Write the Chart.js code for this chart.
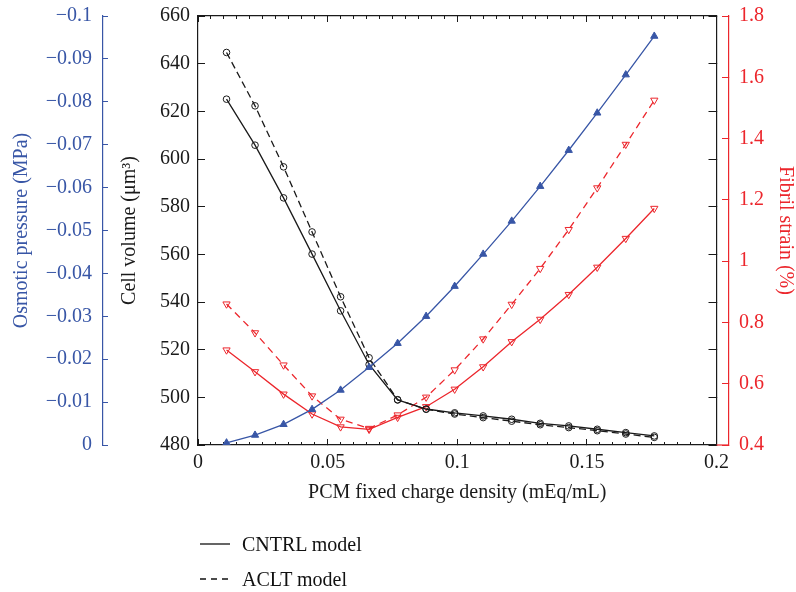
<!DOCTYPE html>
<html>
<head>
<meta charset="utf-8">
<script src="https://cdn.jsdelivr.net/npm/chart.js@4.4.1/dist/chart.umd.min.js"></script>
<style>
    html, body { margin: 0; padding: 0; background: #fff; }
    #wrap { position: relative; width: 796px; height: 592px; }
    #chart { position: absolute; left: 0; top: 0; }
    .legend-row { position: absolute; left: 200px; height: 24px; font: 20px "Liberation Serif", serif; color: #111; }
    .legend-row svg { position: absolute; left: 0; top: 6px; }
    .legend-row span { position: absolute; left: 42px; top: 0; white-space: nowrap; line-height: 24px; }
</style>
</head>
<body>
<div id="wrap">
    <canvas id="chart" width="796" height="592"></canvas>
    <div class="legend-row" style="top: 532px;">
        <svg width="32" height="12"><line x1="0" y1="6" x2="30" y2="6" stroke="#111" stroke-width="1.3"/></svg>
        <span>CNTRL model</span>
    </div>
    <div class="legend-row" style="top: 567px;">
        <svg width="32" height="12"><line x1="0" y1="6" x2="30" y2="6" stroke="#111" stroke-width="1.3" stroke-dasharray="6,5"/></svg>
        <span>ACLT model</span>
    </div>
</div>
<script>
(function () {
    'use strict';

    // PCM fixed charge density (mEq/mL)
    var chargeDensity = [0.011, 0.022, 0.033, 0.044, 0.055, 0.066, 0.077, 0.088,
                         0.099, 0.110, 0.121, 0.132, 0.143, 0.154, 0.165, 0.176];
    // Osmotic pressure (MPa), shared by both models
    var osmoticPressure = [-0.0005, -0.0023, -0.0048, -0.0083, -0.0128, -0.0181, -0.0237, -0.0300,
                           -0.0370, -0.0445, -0.0522, -0.0603, -0.0687, -0.0774, -0.0863, -0.0953];
    // Cell volume (um^3)
    var volumeCntrl = [625.1, 605.8, 583.7, 560.1, 536.3, 513.8, 498.9, 495.1,
                       493.5, 492.2, 490.8, 489.1, 488.0, 486.6, 485.2, 483.8];
    var volumeAclt = [644.7, 622.3, 596.7, 569.4, 542.2, 516.6, 499.0, 495.0,
                      493.0, 491.5, 490.0, 488.5, 487.3, 486.0, 484.6, 483.2];
    // Fibril strain (%)
    var strainCntrl = [0.710, 0.639, 0.566, 0.501, 0.459, 0.451, 0.490, 0.525,
                       0.582, 0.655, 0.737, 0.810, 0.891, 0.980, 1.074, 1.172];
    var strainAclt = [0.860, 0.766, 0.661, 0.560, 0.484, 0.454, 0.498, 0.556,
                      0.645, 0.746, 0.859, 0.976, 1.103, 1.239, 1.381, 1.525];

    var BLUE = 'rgb(56, 86, 166)';
    var RED = 'rgb(236, 38, 44)';
    var INK = '#1a1a1a';
    var FONT = '"Liberation Serif", "DejaVu Serif", serif';

    function pts(ys) {
        var out = [];
        for (var i = 0; i < chargeDensity.length; i++) out.push({ x: chargeDensity[i], y: ys[i] });
        return out;
    }

    function num(v, digits) {
        var s = String(+Math.abs(v).toFixed(digits));
        return v < -1e-9 ? '\u2212' + s : s;
    }

    // fixed axis box sizes; label overhang is left to the page margins
    function fixWidth(w) {
        return function (scale) { scale.width = w; scale.paddingTop = 0; scale.paddingBottom = 0; };
    }
    function fixHeight(h) {
        return function (scale) { scale.height = h; scale.paddingLeft = 0; scale.paddingRight = 0; };
    }

    // short red foot joining the box bottom to the offset strain axis
    var redFoot = {
        id: 'redFoot',
        afterDraw: function (chart) {
            var s = chart.scales.yS, ctx = chart.ctx;
            ctx.save();
            ctx.strokeStyle = RED;
            ctx.lineWidth = 1.2;
            ctx.beginPath();
            ctx.moveTo(chart.chartArea.right, s.bottom);
            ctx.lineTo(s.left, s.bottom);
            ctx.stroke();
            ctx.restore();
        }
    };

    var tickFont = { family: FONT, size: 20, lineHeight: 1.2 };
    var titleFont = { family: FONT, size: 20, lineHeight: 1.2 };

    var lineBase = { borderWidth: 1.3, pointBorderWidth: 1, tension: 0, fill: false };

    new Chart(document.getElementById('chart'), {
        type: 'line',
        data: {
            datasets: [
                Object.assign({
                    label: 'Osmotic pressure', data: pts(osmoticPressure), yAxisID: 'yP',
                    borderColor: BLUE, backgroundColor: BLUE,
                    pointStyle: 'triangle', pointRadius: 4.2,
                    pointBackgroundColor: BLUE, pointBorderColor: BLUE
                }, lineBase),
                Object.assign({
                    label: 'Cell volume CNTRL', data: pts(volumeCntrl), yAxisID: 'yV',
                    borderColor: INK, pointStyle: 'circle', pointRadius: 3.3,
                    pointBackgroundColor: 'rgba(0,0,0,0)', pointBorderColor: INK
                }, lineBase),
                Object.assign({
                    label: 'Cell volume ACLT', data: pts(volumeAclt), yAxisID: 'yV',
                    borderColor: INK, borderDash: [7, 4], pointStyle: 'circle', pointRadius: 3.3,
                    pointBackgroundColor: 'rgba(0,0,0,0)', pointBorderColor: INK
                }, lineBase),
                Object.assign({
                    label: 'Fibril strain CNTRL', data: pts(strainCntrl), yAxisID: 'yS',
                    borderColor: RED, pointStyle: 'triangle', pointRotation: 180, pointRadius: 4.2,
                    pointBackgroundColor: 'rgba(0,0,0,0)', pointBorderColor: RED
                }, lineBase),
                Object.assign({
                    label: 'Fibril strain ACLT', data: pts(strainAclt), yAxisID: 'yS',
                    borderColor: RED, borderDash: [7, 5], pointStyle: 'triangle', pointRotation: 180, pointRadius: 4.2,
                    pointBackgroundColor: 'rgba(0,0,0,0)', pointBorderColor: RED
                }, lineBase)
            ]
        },
        options: {
            responsive: false,
            animation: false,
            devicePixelRatio: 1,
            layout: { padding: { top: 16, left: 0, right: 0, bottom: 0 } },
            plugins: { legend: { display: false }, tooltip: { enabled: false } },
            scales: {
                x: {
                    type: 'linear', position: 'bottom', weight: 1,
                    min: 0, max: 0.2,
                    ticks: {
                        stepSize: 0.05, color: INK, font: tickFont, padding: 12, maxRotation: 0, autoSkip: false,
                        callback: function (v) { return num(v, 3); }
                    },
                    grid: { drawOnChartArea: false, drawTicks: true, tickLength: -6, color: INK, lineWidth: 1 },
                    border: { display: true, color: INK, width: 1.2 },
                    title: {
                        display: true, text: 'PCM fixed charge density (mEq/mL)', color: INK,
                        font: titleFont, padding: { top: 0, bottom: 87 }
                    },
                    afterFit: fixHeight(147)
                },
                xMinor: {
                    type: 'linear', position: 'bottom', weight: 0,
                    min: 0, max: 0.2,
                    ticks: { display: false, stepSize: 0.005, autoSkip: false },
                    grid: { drawOnChartArea: false, drawTicks: true, tickLength: -3, color: INK, lineWidth: 1 },
                    border: { display: false },
                    afterFit: fixHeight(0)
                },
                xTop: {
                    type: 'linear', position: 'top', weight: 1,
                    min: 0, max: 0.2,
                    ticks: { display: false, stepSize: 0.05, autoSkip: false },
                    grid: { drawOnChartArea: false, drawTicks: true, tickLength: -6, color: INK, lineWidth: 1 },
                    border: { display: true, color: INK, width: 1.2 },
                    afterFit: fixHeight(0)
                },
                xTopMinor: {
                    type: 'linear', position: 'top', weight: 0,
                    min: 0, max: 0.2,
                    ticks: { display: false, stepSize: 0.005, autoSkip: false },
                    grid: { drawOnChartArea: false, drawTicks: true, tickLength: -3, color: INK, lineWidth: 1 },
                    border: { display: false },
                    afterFit: fixHeight(0)
                },
                yP: {
                    type: 'linear', position: 'left', weight: 2,
                    min: -0.1, max: 0, reverse: true,
                    ticks: {
                        stepSize: 0.01, color: BLUE, font: tickFont, padding: 16,
                        callback: function (v) { return num(v, 2); }
                    },
                    grid: { drawOnChartArea: false, drawTicks: true, tickLength: -5, color: BLUE, lineWidth: 1 },
                    border: { display: true, color: BLUE, width: 1.2 },
                    title: {
                        display: true, text: 'Osmotic pressure (MPa)', color: BLUE,
                        font: titleFont, padding: { top: 10, bottom: 0 }
                    },
                    afterFit: fixWidth(103)
                },
                yV: {
                    type: 'linear', position: 'left', weight: 1,
                    min: 480, max: 660,
                    ticks: {
                        stepSize: 20, color: INK, font: tickFont, padding: 15,
                        callback: function (v) { return num(v, 0); }
                    },
                    grid: { drawOnChartArea: false, drawTicks: true, tickLength: -7, color: INK, lineWidth: 1 },
                    border: { display: true, color: INK, width: 1.2 },
                    title: {
                        display: true, text: 'Cell volume (\u03BCm\u00B3)', color: INK,
                        font: titleFont, padding: { top: 15, bottom: 0 }
                    },
                    afterFit: fixWidth(95)
                },
                yR: {
                    type: 'linear', position: 'right', weight: 0,
                    min: 480, max: 660,
                    ticks: { display: false, stepSize: 20 },
                    grid: { drawOnChartArea: false, drawTicks: true, tickLength: -8, color: INK, lineWidth: 1 },
                    border: { display: true, color: INK, width: 1.2 },
                    afterFit: fixWidth(12.5)
                },
                yS: {
                    type: 'linear', position: 'right', weight: 1,
                    min: 0.4, max: 1.8,
                    ticks: {
                        stepSize: 0.2, color: RED, font: tickFont, padding: 17,
                        callback: function (v) { return num(v, 1); }
                    },
                    grid: { drawOnChartArea: false, drawTicks: true, tickLength: -7, color: RED, lineWidth: 1 },
                    border: { display: true, color: RED, width: 1.2 },
                    title: {
                        display: true, text: 'Fibril strain (%)', color: RED,
                        font: { family: FONT, size: 20, lineHeight: 1 }, padding: { top: 1, bottom: 0 }
                    },
                    afterFit: fixWidth(67)
                }
            }
        },
        plugins: [redFoot]
    });
})();
</script>
</body>
</html>
